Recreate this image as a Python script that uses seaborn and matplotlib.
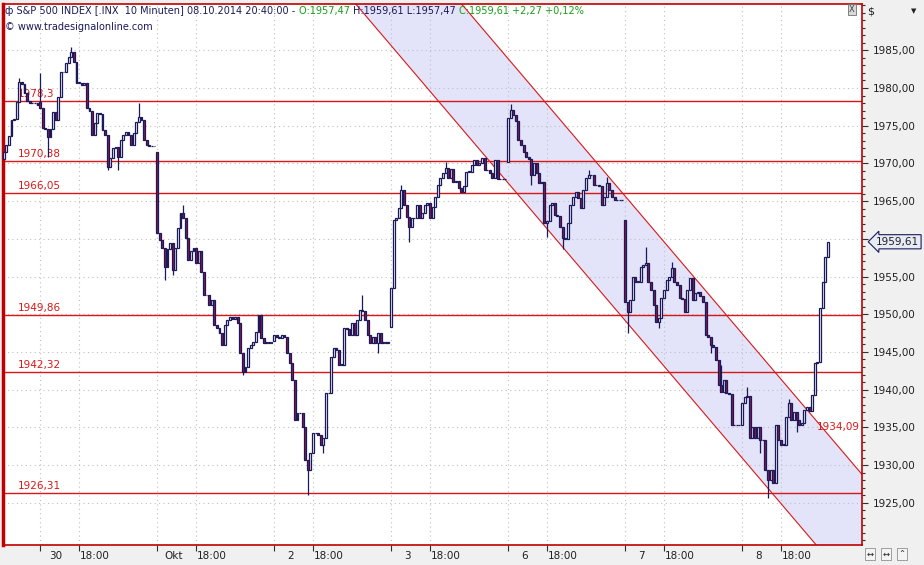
import numpy as np
import pandas as pd
import seaborn as sns
import matplotlib.pyplot as plt
import matplotlib.ticker as mticker

# 10-minute closes per session
close_sep29 = [1971.5, 1972.5, 1973.6, 1975.7, 1975.9, 1978.2, 1980.8, 1980.5, 1979.4, 1978.3,
               1978.0, 1978.0, 1978.0, 1977.8]
close_sep30 = [1977.3, 1974.7, 1974.6, 1973.5, 1974.5, 1976.8, 1975.8, 1978.8, 1982.1, 1982.1,
               1983.3, 1984.1, 1984.8, 1983.4, 1980.7, 1980.7, 1980.4, 1980.7, 1977.3, 1977.0,
               1973.8, 1975.4, 1976.7, 1976.5, 1974.4, 1973.8, 1969.5, 1970.7, 1972.0, 1972.2,
               1970.8, 1973.1, 1973.8, 1974.2, 1973.8, 1972.4, 1974.0, 1975.5, 1976.2, 1975.8,
               1973.1, 1972.4, 1972.3, 1972.3, 1972.3]
close_oct1 = [1960.8, 1959.8, 1958.8, 1956.3, 1958.6, 1959.4, 1955.9, 1958.8, 1961.4, 1963.4,
              1962.8, 1960.1, 1957.2, 1958.4, 1958.8, 1956.8, 1958.4, 1955.6, 1952.5, 1952.6,
              1951.2, 1951.9, 1948.6, 1948.2, 1947.5, 1945.9, 1948.6, 1949.2, 1949.6, 1949.4,
              1949.6, 1948.8, 1944.9, 1942.3, 1943.0, 1945.5, 1945.9, 1946.3, 1947.6, 1949.9,
              1946.8, 1946.2, 1946.2, 1946.2, 1946.2]
close_oct2 = [1947.2, 1947.0, 1946.9, 1947.2, 1947.0, 1944.9, 1943.5, 1941.3, 1936.0, 1936.9,
              1936.9, 1935.0, 1930.7, 1929.3, 1931.6, 1934.2, 1934.2, 1934.0, 1932.7, 1933.6,
              1939.5, 1939.5, 1944.3, 1945.5, 1945.3, 1943.3, 1943.3, 1948.2, 1948.0, 1947.2,
              1948.8, 1947.2, 1949.2, 1950.6, 1950.4, 1949.2, 1947.2, 1946.2, 1947.0, 1946.2,
              1947.5, 1946.2, 1946.2, 1946.2, 1946.2]
close_oct3 = [1953.5, 1962.5, 1962.8, 1964.1, 1966.5, 1964.5, 1962.9, 1961.6, 1962.7, 1962.7,
              1964.5, 1962.7, 1963.4, 1964.5, 1964.7, 1962.8, 1964.2, 1965.5, 1967.1, 1968.1,
              1968.7, 1969.4, 1968.1, 1969.3, 1967.5, 1967.7, 1966.7, 1966.2, 1967.0, 1968.9,
              1968.9, 1969.8, 1970.5, 1969.8, 1970.1, 1970.7, 1969.1, 1969.1, 1968.7, 1968.1,
              1970.5, 1967.9, 1967.9, 1967.9, 1967.9]
close_oct6 = [1976.0, 1977.1, 1976.4, 1975.6, 1973.1, 1972.4, 1971.5, 1970.8, 1970.6, 1968.5,
              1970.1, 1968.7, 1967.4, 1967.6, 1962.1, 1962.3, 1964.5, 1964.7, 1963.2, 1963.0,
              1961.6, 1960.1, 1960.0, 1962.1, 1964.5, 1965.5, 1966.2, 1965.4, 1964.1, 1966.5,
              1968.1, 1968.5, 1968.4, 1967.1, 1967.1, 1967.0, 1964.5, 1965.5, 1967.4, 1966.5,
              1965.5, 1965.1, 1965.1, 1965.1, 1965.1]
close_oct7 = [1951.6, 1950.3, 1951.9, 1955.0, 1954.3, 1954.3, 1956.3, 1956.5, 1956.8, 1954.3,
              1953.2, 1951.2, 1949.0, 1949.5, 1952.2, 1953.2, 1954.5, 1955.0, 1956.1, 1954.3,
              1953.9, 1952.2, 1952.0, 1950.3, 1953.2, 1954.8, 1951.9, 1952.8, 1953.0, 1952.4,
              1951.6, 1947.2, 1947.0, 1945.9, 1945.7, 1943.9, 1940.6, 1939.7, 1941.3, 1939.5,
              1939.4, 1935.3, 1935.3, 1935.3, 1935.3]
close_oct8 = [1938.2, 1939.0, 1939.1, 1933.6, 1935.0, 1933.6, 1935.1, 1933.3, 1933.3, 1929.3,
              1928.0, 1929.3, 1927.6, 1935.3, 1933.3, 1932.7, 1932.7, 1936.4, 1938.2, 1936.0,
              1937.0, 1936.0, 1935.3, 1935.6, 1937.3, 1937.7, 1937.2, 1939.3, 1943.5, 1943.7,
              1950.8, 1954.3, 1957.6, 1959.61]

sessions = [close_sep29, close_sep30, close_oct1, close_oct2, close_oct3,
            close_oct6, close_oct7, close_oct8]
session_open = [1970.6, 1978.1, 1971.5, 1946.5, 1948.3, 1970.2, 1962.5, 1935.3]
day_labels = ["30", "Okt", "2", "3", "6", "7", "8"]

# notable wicks: (session, bar in session, price)
wick_high = [(0, 6, 1981.3), (1, 0, 1982.0), (1, 12, 1985.4), (1, 38, 1978.0),
             (2, 10, 1964.5), (3, 34, 1952.5), (4, 4, 1967.1), (4, 21, 1970.2),
             (5, 1, 1977.9), (5, 31, 1969.1), (5, 38, 1968.2), (6, 8, 1958.9),
             (6, 18, 1956.9), (6, 37, 1943.3), (7, 2, 1940.3), (7, 18, 1938.8)]
wick_low = [(0, 0, 1970.4), (1, 3, 1970.8), (1, 26, 1969.1), (1, 30, 1969.1),
            (2, 3, 1954.5), (2, 6, 1955.2), (2, 33, 1941.9), (3, 13, 1926.0),
            (3, 19, 1931.6), (3, 40, 1944.9), (4, 7, 1959.6), (5, 9, 1967.1),
            (5, 15, 1960.2), (5, 21, 1958.6), (6, 1, 1947.5), (6, 13, 1948.2),
            (6, 33, 1944.9), (7, 7, 1931.6), (7, 10, 1925.6), (7, 21, 1934.4)]

levels = [1978.3, 1970.38, 1966.05, 1949.86, 1942.32, 1926.31]
level_labels = ["1978,3", "1970,38", "1966,05", "1949,86", "1942,32", "1926,31"]
price_ticks = [1925, 1930, 1935, 1940, 1945, 1950, 1955, 1965, 1970, 1975, 1980, 1985]

channel_upper_last = 1934.09   # value of the upper channel line at the last bar
channel_lower_last = 1917.6
channel_slope = -0.405         # points per bar
last_price = 1959.61

# build OHLC table
rows = []
for d, closes in enumerate(sessions):
    for j, c in enumerate(closes):
        o = session_open[d] if j == 0 else closes[j - 1]
        rows.append(dict(day=d, bar=j, open=o, close=c, high=max(o, c), low=min(o, c)))
df = pd.DataFrame(rows)
df["x"] = np.arange(len(df))
for d, j, v in wick_high:
    df.loc[(df.day == d) & (df.bar == j), "high"] = v
for d, j, v in wick_low:
    df.loc[(df.day == d) & (df.bar == j), "low"] = v

day_start = df[(df.bar == 0) & (df.day > 0)]["x"].to_numpy()
t1800 = day_start + 15

navy = "#1a1a5a"
red = "#d81818"
sns.set_theme(style="white")
plt.rcParams["font.family"] = ["DejaVu Sans"]

fig = plt.figure(figsize=(9.24, 5.65), dpi=100, facecolor="#f0f0f0")
ax = fig.add_axes([3 / 924, 20 / 565, 859 / 924, 541 / 565])
ax.set_facecolor("white")
ax.set_xlim(-0.25, 330.15)
ax.set_ylim(1919.4, 1991.14)

# channel
cx = np.array([100, 340])
ch_up = channel_upper_last + channel_slope * (cx - df.x.iloc[-1])
ch_lo = channel_lower_last + channel_slope * (cx - df.x.iloc[-1])
ax.fill_between(cx, ch_lo, ch_up, color="#e3e3fa", lw=0, zorder=0.2)
sns.lineplot(x=cx, y=ch_up, color=red, lw=0.8, ax=ax, zorder=1)
sns.lineplot(x=cx, y=ch_lo, color=red, lw=0.8, ax=ax, zorder=1)

# grid
ax.set_axisbelow(True)
ax.set_xticks(np.sort(np.concatenate([day_start, t1800])))
ax.set_xticklabels([])
ax.yaxis.set_major_locator(mticker.FixedLocator(np.arange(1925, 1990, 5)))
ax.yaxis.set_minor_locator(mticker.MultipleLocator(1))
ax.grid(True, which="major", color="#c0c0c0", ls=(0, (1, 3)), lw=0.8)

# horizontal levels
for lv, lb in zip(levels, level_labels):
    ax.axhline(lv, color=red, lw=1.0, zorder=1.5)
    ax.text(5.5, lv + 0.25, lb, color=red, fontsize=7.5, va="bottom", ha="left", zorder=1.5)
ax.text(329.5, channel_upper_last + 0.3, "1934,09", color=red, fontsize=7.5,
        ha="right", va="bottom", zorder=1.5)

# candles
ax.vlines(df.x, df.low, df.high, color=navy, lw=0.9, zorder=2)
body_lo = np.minimum(df.open, df.close)
body_h = np.maximum((df.close - df.open).abs(), 0.06)
up = df.close >= df.open
ax.bar(df.x[up], body_h[up], bottom=body_lo[up], width=0.72, color="white",
       edgecolor=navy, linewidth=0.9, zorder=3)
ax.bar(df.x[~up], body_h[~up], bottom=body_lo[~up], width=0.72, color="#a0123e",
       edgecolor=navy, linewidth=0.9, zorder=3)

# axes frame & ticks
for s in ax.spines.values():
    s.set_color("#c00000")
    s.set_linewidth(1.2)
ax.spines["left"].set_linewidth(2.5)
ax.yaxis.tick_right()
ax.yaxis.set_major_formatter(mticker.FuncFormatter(
    lambda v, p: f"{v:.2f}".replace(".", ",") if round(v) in price_ticks else ""))
ax.tick_params(axis="y", which="major", right=True, length=4, width=0.8, pad=4,
               labelsize=7.5, color="#303030", labelcolor="#202020")
ax.tick_params(axis="y", which="minor", right=True, length=2.5, width=0.8, color="#303030")
ax.tick_params(axis="x", bottom=True, length=4, width=0.8, color="#303030")

xt = ax.get_xaxis_transform()
for s, lb in zip(day_start, day_labels):
    ax.text(s + 6.2, -0.021, lb, transform=xt, ha="center", va="center", fontsize=7.5, color="#202020")
for s in t1800:
    ax.text(s + 0.4, -0.021, "18:00", transform=xt, ha="left", va="center", fontsize=7.5, color="#202020")

# header
t = ax.text(0.0025, 0.987, "ф S&P 500 INDEX [.INX  10 Minuten] 08.10.2014 20:40:00 - ",
            transform=ax.transAxes, fontsize=7, color=navy, va="center", ha="left")
for s, c in [("O:1957,47 ", "#14a014"), ("H:1959,61 L:1957,47 ", navy),
             ("C:1959,61 +2,27 +0,12%", "#14a014")]:
    t = ax.annotate(s, xy=(1, 0), xycoords=t, va="bottom", ha="left", fontsize=7, color=c)
ax.text(0.0025, 0.9575, "© www.tradesignalonline.com", transform=ax.transAxes,
        fontsize=7, color=navy, va="center", ha="left")
ax.text(0.9885, 0.99, "X", transform=ax.transAxes, fontsize=6, color="#404040",
        ha="center", va="center",
        bbox=dict(boxstyle="square,pad=0.15", fc="#d8d8d8", ec="#707070", lw=0.6))

# right panel decorations
fig.text(867 / 924, 1 - 11 / 565, "$", fontsize=8, color="#202020", va="center")
fig.text(911 / 924, 1 - 11 / 565, "▼", fontsize=5, color="#202020", va="center")
ax.annotate("1959,61", xy=(1.0, last_price), xycoords=("axes fraction", "data"),
            xytext=(10, 0), textcoords="offset points", fontsize=7.5, color="#202020",
            va="center", ha="left",
            bbox=dict(boxstyle="larrow,pad=0.2", fc="#e8eaf4", ec=navy, lw=0.8))
for i, s in enumerate(["↔", "↔", "⌃"]):
    fig.text((870 + 16 * i) / 924, 1 - 554 / 565, s, fontsize=6, color="#202020",
             ha="center", va="center",
             bbox=dict(boxstyle="square,pad=0.15", fc="#f4f4f4", ec="#909090", lw=0.6))

fig.savefig("out.png", dpi=100, facecolor=fig.get_facecolor())
